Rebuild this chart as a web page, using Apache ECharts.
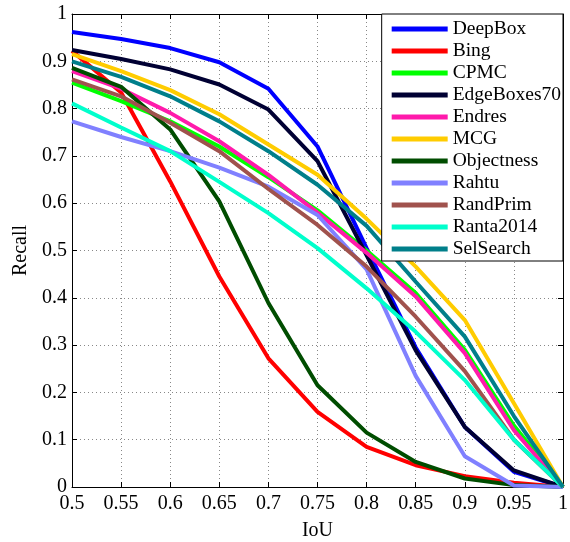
<!DOCTYPE html>
<html>
<head>
<meta charset="utf-8">
<script src="https://cdn.jsdelivr.net/npm/echarts@6/dist/echarts.min.js"></script>
<style>html,body{margin:0;padding:0;background:#fff}#c{width:570px;height:542px}</style>
</head>
<body>
<div id="c"></div>
<script>
const iou = [0.5, 0.55, 0.6, 0.65, 0.7, 0.75, 0.8, 0.85, 0.9, 0.95, 1.0];
const seriesNames = ['DeepBox','Bing','CPMC','EdgeBoxes70','Endres','MCG','Objectness','Rahtu','RandPrim','Ranta2014','SelSearch'];
const deepBox    = [0.962, 0.947, 0.928, 0.898, 0.842, 0.720, 0.505, 0.295, 0.127, 0.032, 0];
const bing       = [0.922, 0.834, 0.646, 0.445, 0.272, 0.159, 0.085, 0.046, 0.023, 0.009, 0];
const cpmc       = [0.855, 0.816, 0.773, 0.720, 0.655, 0.585, 0.500, 0.410, 0.290, 0.130, 0];
const edgeBoxes70= [0.924, 0.905, 0.883, 0.851, 0.798, 0.689, 0.490, 0.289, 0.127, 0.035, 0];
const endres     = [0.879, 0.842, 0.791, 0.731, 0.660, 0.580, 0.495, 0.403, 0.283, 0.120, 0];
const mcg        = [0.915, 0.879, 0.839, 0.788, 0.724, 0.660, 0.567, 0.466, 0.353, 0.177, 0];
const objectness = [0.886, 0.846, 0.756, 0.604, 0.389, 0.215, 0.115, 0.053, 0.018, 0.004, 0];
const rahtu      = [0.773, 0.740, 0.710, 0.675, 0.635, 0.575, 0.460, 0.235, 0.065, 0.003, 0];
const randPrim   = [0.862, 0.826, 0.770, 0.710, 0.630, 0.554, 0.466, 0.360, 0.245, 0.100, 0];
const ranta2014  = [0.811, 0.760, 0.710, 0.645, 0.579, 0.505, 0.420, 0.328, 0.226, 0.100, 0];
const selSearch  = [0.900, 0.867, 0.826, 0.773, 0.710, 0.639, 0.552, 0.434, 0.318, 0.150, 0];
const allValues = [deepBox, bing, cpmc, edgeBoxes70, endres, mcg, objectness, rahtu, randPrim, ranta2014, selSearch];
const colors = ['#0000ff','#ff0000','#00ff00','#000033','#ff1aab','#ffcc00','#004d00','#8080ff','#a0524d','#00ffcc','#007f8a'];

const font = '"Liberation Serif", "Times New Roman", serif';
const chart = echarts.init(document.getElementById('c'), null, {renderer: 'canvas'});

const series = seriesNames.map((name, i) => ({
  name: name,
  type: 'line',
  symbol: 'none',
  showSymbol: false,
  data: iou.map((x, j) => [x, allValues[i][j]]),
  lineStyle: {color: colors[i], width: 4},
  itemStyle: {color: colors[i]},
  emphasis: {disabled: true},
  animation: false,
  z: 2
}));

const tickCommon = {show: true, inside: true, length: 5, lineStyle: {color: '#000', width: 1}};
const gridLine = {show: true, lineStyle: {color: '#888', type: [1, 3], width: 1}};

chart.setOption({
  animation: false,
  backgroundColor: '#fff',
  textStyle: {fontFamily: font},
  grid: {left: 72, right: 7, top: 14, bottom: 55, containLabel: false, outerBoundsMode: 'none'},
  xAxis: [{
    type: 'value', min: 0.5, max: 1, interval: 0.05, position: 'bottom',
    name: 'IoU', nameLocation: 'middle', nameGap: 34,
    nameTextStyle: {fontFamily: font, fontSize: 20, color: '#000'},
    axisLine: {show: true, onZero: false, lineStyle: {color: '#000', width: 1}},
    axisTick: tickCommon,
    axisLabel: {fontFamily: font, fontSize: 20, color: '#000', margin: 7},
    splitLine: gridLine
  }, {
    type: 'value', min: 0.5, max: 1, interval: 0.05, position: 'top',
    axisLine: {show: true, onZero: false, lineStyle: {color: '#000', width: 1}},
    axisTick: tickCommon,
    axisLabel: {show: false},
    splitLine: {show: false}
  }],
  yAxis: [{
    type: 'value', min: 0, max: 1, interval: 0.1, position: 'left',
    name: 'Recall', nameLocation: 'middle', nameGap: 34,
    nameTextStyle: {fontFamily: font, fontSize: 20, color: '#000'},
    axisLine: {show: true, onZero: false, lineStyle: {color: '#000', width: 1}},
    axisTick: tickCommon,
    axisLabel: {fontFamily: font, fontSize: 20, color: '#000', margin: 5},
    splitLine: gridLine
  }, {
    type: 'value', min: 0, max: 1, interval: 0.1, position: 'right',
    axisLine: {show: true, onZero: false, lineStyle: {color: '#000', width: 1}},
    axisTick: tickCommon,
    axisLabel: {show: false},
    splitLine: {show: false}
  }],
  legend: {
    orient: 'vertical',
    right: 7, top: 14,
    data: seriesNames.map(n => ({name: n, icon: 'rect'})),
    itemWidth: 56, itemHeight: 5, itemGap: 0,
    padding: [4, 2, 1, 10],
    backgroundColor: '#fff',
    borderColor: '#000', borderWidth: 1,
    selectedMode: false,
    textStyle: {fontFamily: font, fontSize: 19.5, color: '#000', lineHeight: 22, height: 22}
  },
  series: series
});
</script>
</body>
</html>
